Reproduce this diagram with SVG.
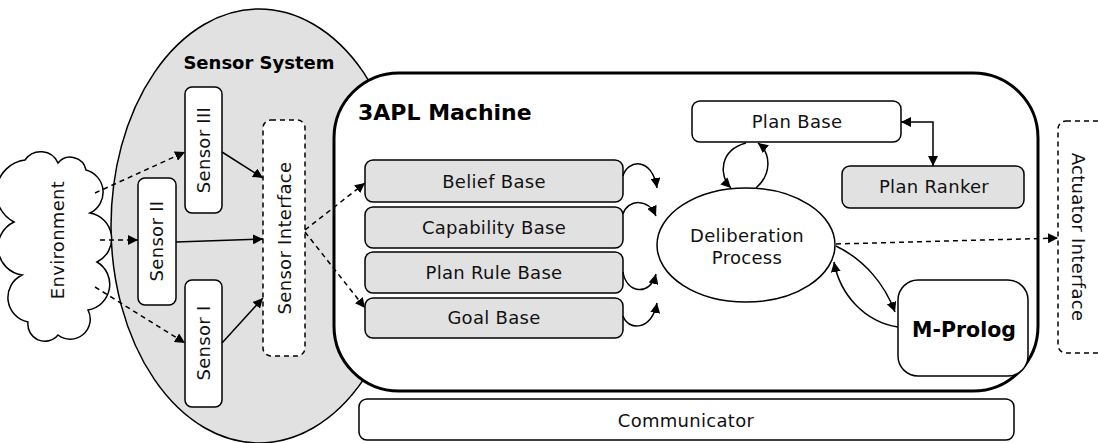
<svg xmlns="http://www.w3.org/2000/svg" width="1098" height="443" viewBox="0 0 1098 443">
  <defs>
    <marker id="arrow" viewBox="0 0 10 10" refX="10" refY="5" markerWidth="10" markerHeight="10" markerUnits="userSpaceOnUse" orient="auto-start-reverse">
      <path d="M0,0 L10,5 L0,10 z" fill="#000"/>
    </marker>
    <style>
      .lbl { font-family: "DejaVu Sans", Verdana, sans-serif; font-size: 18px; letter-spacing: 0.3px; fill: #111; }
      .bold { font-family: "DejaVu Sans", Verdana, sans-serif; font-weight: bold; fill: #000; }
      .box { fill: #fff; stroke: #000; stroke-width: 1.5; }
      .gray { fill: #e1e1e1; stroke: #000; stroke-width: 1.5; }
      .dbox { fill: #fff; stroke: #000; stroke-width: 1.5; stroke-dasharray: 5 4; }
      .link { fill: none; stroke: #000; stroke-width: 1.5; marker-end: url(#arrow); }
      .dash { fill: none; stroke: #000; stroke-width: 1.5; stroke-dasharray: 5 4; marker-end: url(#arrow); }
    </style>
  </defs>

  <!-- sensor system region -->
  <g id="sensor-system">
    <ellipse cx="259" cy="226" rx="148" ry="217" fill="#e1e1e1" stroke="#000" stroke-width="1.5"/>
    <text class="bold" x="259" y="69" font-size="18" text-anchor="middle">Sensor System</text>
  </g>

  <!-- environment cloud -->
  <g id="environment">
    <path d="M25,160 A19,19 0 0 1 58,163 A16,16 0 0 1 86,170 A23,23 0 0 1 90,213 A26,26 0 0 1 97,262 A26,26 0 0 1 88,310 A20,20 0 0 1 58,335 A17,17 0 0 1 28,322 A25,25 0 0 1 22,275 A28,28 0 0 1 14,222 A33,33 0 0 1 25,160 z" fill="#fff" stroke="#000" stroke-width="1.5"/>
    <text class="lbl" transform="translate(64,240) rotate(-90)" text-anchor="middle">Environment</text>
  </g>

  <g id="sensor-3">
    <rect class="box" x="185" y="87" width="37" height="126" rx="7"/>
    <text class="lbl" transform="translate(210,150) rotate(-90)" text-anchor="middle">Sensor III</text>
  </g>
  <g id="sensor-2">
    <rect class="box" x="138" y="178" width="38" height="127" rx="7"/>
    <text class="lbl" transform="translate(163,241) rotate(-90)" text-anchor="middle">Sensor II</text>
  </g>
  <g id="sensor-1">
    <rect class="box" x="185" y="280" width="37" height="127" rx="7"/>
    <text class="lbl" transform="translate(210,343) rotate(-90)" text-anchor="middle">Sensor I</text>
  </g>
  <g id="sensor-interface">
    <rect class="dbox" x="263" y="120" width="42" height="236" rx="8"/>
    <text class="lbl" transform="translate(291,238) rotate(-90)" text-anchor="middle">Sensor Interface</text>
  </g>

  <!-- 3APL machine container -->
  <g id="machine">
    <rect x="334" y="73" width="704" height="318" rx="65" fill="#fff" stroke="#000" stroke-width="3"/>
    <text class="bold" x="358" y="120" font-size="22">3APL Machine</text>
  </g>

  <g id="belief-base">
    <rect class="gray" x="365" y="160" width="258" height="42" rx="8"/>
    <text class="lbl" x="494" y="188" text-anchor="middle">Belief Base</text>
  </g>
  <g id="capability-base">
    <rect class="gray" x="365" y="207" width="258" height="41" rx="8"/>
    <text class="lbl" x="494" y="234" text-anchor="middle">Capability Base</text>
  </g>
  <g id="plan-rule-base">
    <rect class="gray" x="365" y="252" width="258" height="41" rx="8"/>
    <text class="lbl" x="494" y="279" text-anchor="middle">Plan Rule Base</text>
  </g>
  <g id="goal-base">
    <rect class="gray" x="365" y="298" width="258" height="40" rx="8"/>
    <text class="lbl" x="494" y="324" text-anchor="middle">Goal Base</text>
  </g>

  <g id="plan-base">
    <rect class="box" x="692" y="101" width="209" height="41" rx="8"/>
    <text class="lbl" x="797" y="128" text-anchor="middle">Plan Base</text>
  </g>
  <g id="plan-ranker">
    <rect class="gray" x="842" y="166" width="182" height="42" rx="8"/>
    <text class="lbl" x="934" y="193" text-anchor="middle">Plan Ranker</text>
  </g>
  <g id="deliberation">
    <ellipse cx="746" cy="245" rx="89" ry="57" fill="#fff" stroke="#000" stroke-width="1.5"/>
    <text class="lbl" x="747" y="242" text-anchor="middle">Deliberation</text>
    <text class="lbl" x="747" y="264" text-anchor="middle">Process</text>
  </g>
  <g id="m-prolog">
    <rect class="box" x="898" y="280" width="130" height="96" rx="20"/>
    <text class="bold" x="964" y="337" font-size="20.5" text-anchor="middle">M-Prolog</text>
  </g>

  <g id="actuator-interface">
    <rect class="dbox" x="1058" y="121" width="60" height="232" rx="8"/>
    <text class="lbl" transform="translate(1072,237) rotate(90)" text-anchor="middle">Actuator Interface</text>
  </g>

  <g id="communicator">
    <rect class="box" x="359" y="399" width="655" height="41" rx="8"/>
    <text class="lbl" x="686" y="427" text-anchor="middle">Communicator</text>
  </g>

  <!-- connectors -->
  <g id="connectors">
    <path class="dash" d="M95,193 L185,152"/>
    <path class="dash" d="M100,240 L138,240"/>
    <path class="dash" d="M95,287 L185,343"/>
    <path class="link" d="M222,152 L263,178"/>
    <path class="link" d="M176,242 L263,239"/>
    <path class="link" d="M222,343 L263,298"/>
    <path class="dash" d="M305,230 L365,183"/>
    <path class="dash" d="M305,232 L365,308"/>

    <path class="link" d="M623,176 C627,160 652,156 657,188"/>
    <path class="link" d="M623,214 C628,199 648,198 656,216"/>
    <path class="link" d="M623,272 C626,293 650,297 656,274"/>
    <path class="link" d="M623,316 C628,331 652,331 657,303"/>

    <path class="link" d="M746,143 C720,150 718,175 731,188"/>
    <path class="link" d="M756,188 C771,175 772,154 758,143"/>

    <path d="M901,122 L933,122 L933,166" fill="none" stroke="#000" stroke-width="1.5" marker-start="url(#arrow)" marker-end="url(#arrow)"/>

    <path class="dash" d="M836,244 L1058,238"/>
    <path class="link" d="M836,246 C865,260 885,285 895,312"/>
    <path class="link" d="M898,327 C865,322 840,295 834,262"/>
  </g>
</svg>
